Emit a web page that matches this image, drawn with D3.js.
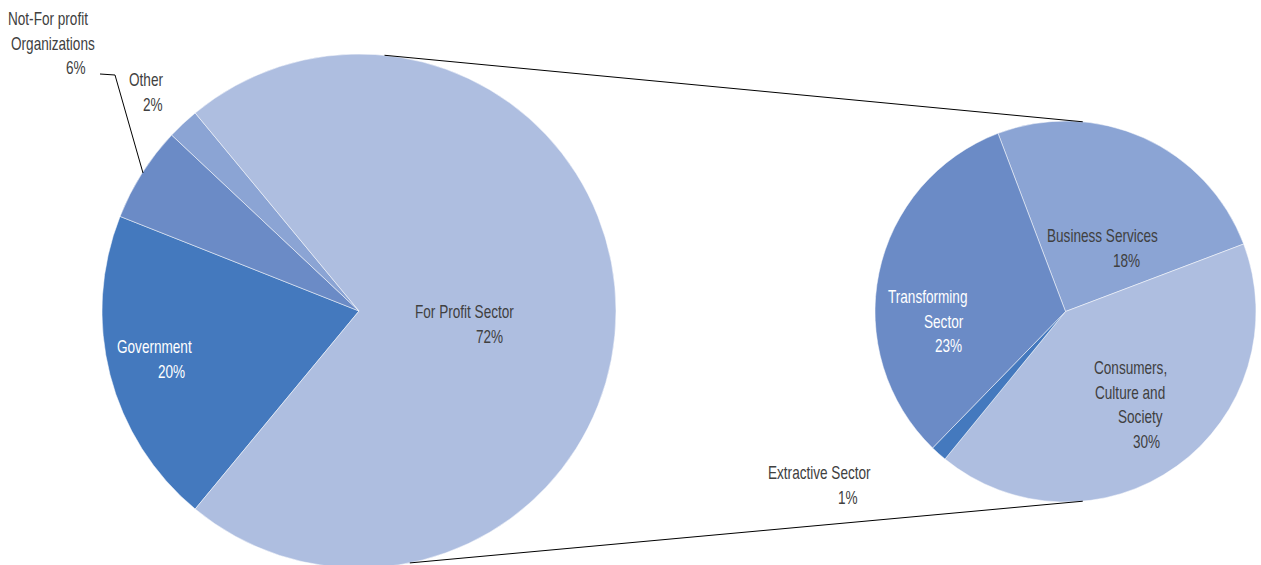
<!DOCTYPE html>
<html>
<head>
<meta charset="utf-8">
<script src="https://cdn.jsdelivr.net/npm/d3@7"></script>
<style>
  body { margin: 0; background: #fff; }
  svg text { font-family: "Liberation Sans", Arial, sans-serif; font-size: 17.5px; }
</style>
</head>
<body>
<svg id="chart" width="1261" height="565"></svg>
<script>
// main pie
var mainNames = ["Government", "Not-For profit Organizations", "Other", "For Profit Sector"];
var mainValues = [20, 6, 2, 72];
var mainColors = ["#4479be", "#6b8bc6", "#8ba4d4", "#aebee0"];

// breakdown of the for profit sector
var subNames = ["Business Services", "Consumers, Culture and Society", "Extractive Sector", "Transforming Sector"];
var subValues = [18, 30, 1, 23];
var subColors = ["#8ba4d4", "#aebee0", "#4479be", "#6b8bc6"];

// label lines as they break in the picture
var mainLabels = [["Government", "20%"], ["Not-For profit", "Organizations", "6%"], ["Other", "2%"], ["For Profit Sector", "72%"]];
var subLabels = [["Business Services", "18%"], ["Consumers,", "Culture and", "Society", "30%"], ["Extractive Sector", "1%"], ["Transforming", "Sector", "23%"]];

var svg = d3.select("#chart");
var rad = d => d * Math.PI / 180;

var big = { cx: 359, cy: 311, r: 257 };
var small = { cx: 1065.5, cy: 311.5, r: 190.5 };

// the split slice (last one) is centred on the right side
var total = d3.sum(mainValues);
var splitSpan = 360 * mainValues[3] / total;
var mainStart = 90 + splitSpan / 2 - 360;

var mainPie = d3.pie().sort(null)
    .startAngle(rad(mainStart)).endAngle(rad(mainStart + 360));
var subPie = d3.pie().sort(null)
    .startAngle(rad(-20.75)).endAngle(rad(339.25));

var arcBig = d3.arc().innerRadius(0).outerRadius(big.r);
var arcSmall = d3.arc().innerRadius(0).outerRadius(small.r);

var gBig = svg.append("g").attr("transform", "translate(" + big.cx + "," + big.cy + ")");
gBig.selectAll("path")
    .data(mainPie(mainValues))
    .enter().append("path")
    .attr("d", arcBig)
    .attr("fill", (d, i) => mainColors[i])
    .attr("stroke", "#fff")
    .attr("stroke-width", 0.5);

var gSmall = svg.append("g").attr("transform", "translate(" + small.cx + "," + small.cy + ")");
gSmall.selectAll("path")
    .data(subPie(subValues))
    .enter().append("path")
    .attr("d", arcSmall)
    .attr("fill", (d, i) => subColors[i])
    .attr("stroke", "#fff")
    .attr("stroke-width", 0.5);

// series lines between the two pies
function onCircle(c, deg) {
    return [c.cx + c.r * Math.sin(rad(deg)), c.cy - c.r * Math.cos(rad(deg))];
}
var seriesLines = [[onCircle(big, 5.7), onCircle(small, 5.2)], [onCircle(big, 168.6), onCircle(small, 174.8)]];
svg.selectAll("line.series")
    .data(seriesLines)
    .enter().append("line")
    .attr("class", "series")
    .attr("x1", d => d[0][0]).attr("y1", d => d[0][1])
    .attr("x2", d => d[1][0]).attr("y2", d => d[1][1])
    .attr("stroke", "#000")
    .attr("stroke-width", 1);

// leader for the not-for-profit label
svg.append("path")
    .attr("d", "M100,74 L115,75 L143,173")
    .attr("fill", "none")
    .attr("stroke", "#000")
    .attr("stroke-width", 1);

// label positions: left x of each line, first baseline
var mainLabelPos = [
    { xs: [117, 158], y: 353, white: true },
    { xs: [8, 11, 66], y: 25, white: false },
    { xs: [129, 143], y: 86, white: false },
    { xs: [415, 476], y: 318, white: false }
];
var subLabelPos = [
    { xs: [1047, 1113], y: 242, white: false },
    { xs: [1094, 1095, 1118, 1133], y: 374, white: false },
    { xs: [768, 838], y: 479, white: false },
    { xs: [888, 924, 935], y: 303, white: true }
];

// no narrow face is installed, so squeeze a regular one
var squeeze = 0.776;
function drawLabels(lines, pos) {
    lines.forEach((ls, i) => {
        var p = pos[i];
        ls.forEach((s, j) => {
            svg.append("text")
                .attr("transform", "translate(" + p.xs[j] + "," + (p.y + j * 24.6) + ") scale(" + squeeze + ",1)")
                .attr("fill", p.white ? "#ffffff" : "#404040")
                .text(s);
        });
    });
}
drawLabels(mainLabels, mainLabelPos);
drawLabels(subLabels, subLabelPos);
</script>
</body>
</html>
